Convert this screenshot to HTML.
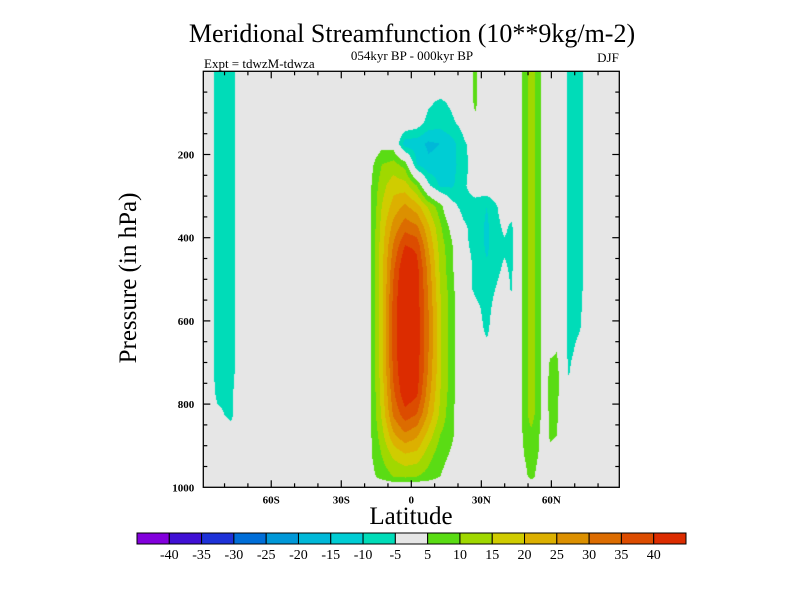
<!DOCTYPE html>
<html><head><meta charset="utf-8">
<style>
body{margin:0;background:#fff;}
#wrap{position:relative;width:800px;height:600px;overflow:hidden;font-family:"Liberation Serif",serif;}
svg text{font-family:"Liberation Serif",serif;}
</style></head>
<body>
<div id="wrap">
<canvas id="field" width="416" height="416" style="position:absolute;left:203px;top:71px;"></canvas>
<svg id="svg" width="800" height="600" style="position:absolute;left:0;top:0;">
<text x="412" y="42" text-anchor="middle" font-size="26">Meridional Streamfunction (10**9kg/m-2)</text>
<text x="412" y="60" text-anchor="middle" font-size="13">054kyr BP - 000kyr BP</text>
<text x="204" y="68" font-size="13">Expt = tdwzM-tdwza</text>
<text x="608" y="62" text-anchor="middle" font-size="13">DJF</text>
<text x="0" y="0" transform="translate(136,278) rotate(-90)" text-anchor="middle" font-size="25">Pressure (in hPa)</text>
<text x="411" y="524" text-anchor="middle" font-size="25">Latitude</text>
<g id="axes"></g>
<g id="cbar"></g>
</svg>
</div>
<script>
const lats = [-89,-88,-83,-77,-72,-20,-17.5,-12.5,-7.5,-2.5,2.5,7.5,12.5,17.5,22.5,27.5,32.5,36,40,43,46,48.5,51.5,54.5,57.5,59.5,62.5,65,67.5,72.5,76,89];
const pressures = [25,75,125,175,225,275,325,375,425,475,525,575,625,675,725,775,825,875,925,975,1000];
const psi = [
[0,0,-7,-7,0,0,0,0,0,0,0,0,0,0,0,6,0,0,0,0,0,8,12,8,0,0,0,0,-7,-7,0,0],
[0,0,-7,-7,0,0,0,0,0,0,0,-4,-6,-4,0,6,0,0,0,0,0,8,12,8,0,0,0,0,-7,-7,0,0],
[0,0,-7,-7,0,0,0,0,0,0,-2,-7,-8,-6,-3,4,0,0,0,0,0,8,12,8,0,0,0,0,-7,-7,0,0],
[0,0,-7,-7,0,0,0,3,2,-13,-13,-16,-15,-12,-6,-2,0,0,0,0,0,8,12,8,0,0,0,0,-7,-7,0,0],
[0,0,-7,-7,0,0,3,10,12,8,-10,-14,-13,-12,-7,-2,0,0,0,0,0,8,12,8,0,0,0,0,-7,-7,0,0],
[0,0,-7,-7,0,0,4,13,18,17,10,-4,-11,-11,-6,-2,0,0,0,0,0,8,12,8,0,0,0,0,-7,-7,0,0],
[0,0,-7,-7,0,0,4,15,22,26,22,14,7,-3,-7,-7,-10,-6,-2,-2,0,8,12,8,0,0,0,0,-7,-7,0,0],
[0,0,-7,-7,0,0,4,17,27,33,31,21,11,3,-4,-7,-11,-7,-4,-6,0,8,12,8,0,0,0,0,-7,-7,0,0],
[0,0,-7,-7,0,0,4,18,31,41,39,25,13,6,-4,-6,-11,-7,-6,-6,0,8,12,8,0,0,0,0,-7,-7,0,0],
[0,0,-7,-7,0,0,4,18,34,46,42,28,14,6,-2,-6,-9,-7,-4,-6,0,8,12,8,0,0,0,0,-7,-7,0,0],
[0,0,-7,-7,0,0,4,18,36,47,43,29,15,7,-2,-6,-8,-5,-2,-5.5,0,8,12,8,0,0,0,0,-7,-7,0,0],
[0,0,-7,-7,0,0,4,18,37,47,43,30,16,7,0,-3,-7,-3,0,0,0,8,12,8,0,0,0,0,-7,-6,0,0],
[0,0,-7,-7,0,0,4,18,37,47,43,30,16,7,0,-2,-6,-2,0,0,0,8,12,8,0,0,0,0,-7,-5,0,0],
[0,0,-7,-7,0,0,4,18,37,47,43,30,16,7,0,0,-3,0,0,0,0,8,12,8,0,4,5,0,-6.5,-3,0,0],
[0,0,-7,-7,0,0,4,18,36,46,43,29,16,7,0,0,0,0,0,0,0,8,12,8,0,7,7,0,-5.5,0,0,0],
[0,0,-6,-6,0,0,4,17,34,44,41,27,15,7,0,0,0,0,0,0,0,8,12,8,0,8,7,0,-2,0,0,0],
[0,0,-4,-6,0,0,4,16,31,38,35,24,14,6,0,0,0,0,0,0,0,8,12,8,0,7,6,0,0,0,0,0],
[0,0,-2,-3,0,0,4,13,24,29,26,18,10,6,0,0,0,0,0,0,0,7,9,6,0,6,5,0,0,0,0,0],
[0,0,0,0,0,0,4,10,16,19,18,12,7,4,0,0,0,0,0,0,0,5,8,5,0,3,3,0,0,0,0,0],
[0,0,0,0,0,0,3,7,10,11,10,8,5,2,0,0,0,0,0,0,0,3,7,3,0,0,0,0,0,0,0,0],
[0,0,0,0,0,0,0,0,0,0,0,0,0,0,0,0,0,0,0,0,0,0,0,0,0,0,0,0,0,0,0,0]
];
const levelLabels = ["-40","-35","-30","-25","-20","-15","-10","-5","5","10","15","20","25","30","35","40"];
const xTickLabels = ["60S","30S","0","30N","60N"];
const xTickValues = [-60,-30,0,30,60];
const yTickValues = [200,400,600,800,1000];
const colors = ["#8200dc","#4010d4","#1e32d8","#006ed8","#0098d8","#00b8d8","#00cdd4","#00dcb8","#e6e6e6","#5adc14","#a0d800","#d0cc00","#dcb000","#dc9000","#dc6c00","#dc4c00","#dc2c00"];

const PL=203.3, PR=619.3, PT=71.3, PB=487.3;
const LAT0=-89.1, LAT1=89.1, P0=0, P1=1000;
function xScale(lat){return PL+(lat-LAT0)/(LAT1-LAT0)*(PR-PL);}
function yScale(p){return PT+(p-P0)/(P1-P0)*(PB-PT);}
function findIdx(arr,v){
  if(v<=arr[0]) return [0,0,0];
  if(v>=arr[arr.length-1]) return [arr.length-1,arr.length-1,0];
  for(let i=0;i<arr.length-1;i++){ if(v>=arr[i]&&v<=arr[i+1]) return [i,i+1,(v-arr[i])/(arr[i+1]-arr[i])]; }
  return [0,0,0];
}
function colorIndex(v){
  if(v>-5&&v<5) return 8;
  if(v>=5) return 9+Math.min(7,Math.floor((v-5)/5));
  return 7-Math.min(7,Math.floor((-v-5)/5));
}
const cv=document.getElementById('field');
const ctx=cv.getContext('2d');
const img=ctx.createImageData(416,416);
const rgb=colors.map(c=>[parseInt(c.substr(1,2),16),parseInt(c.substr(3,2),16),parseInt(c.substr(5,2),16)]);
for(let py=0;py<416;py++){
  const p=P0+(py+0.5)/416*(P1-P0);
  const [r0,r1,ty]=findIdx(pressures,p);
  for(let px=0;px<416;px++){
    const lat=LAT0+(px+0.5)/416*(LAT1-LAT0);
    const [c0,c1,tx]=findIdx(lats,lat);
    const v=(psi[r0][c0]*(1-tx)+psi[r0][c1]*tx)*(1-ty)+(psi[r1][c0]*(1-tx)+psi[r1][c1]*tx)*ty;
    const k=rgb[colorIndex(v)];
    const o=(py*416+px)*4;
    img.data[o]=k[0];img.data[o+1]=k[1];img.data[o+2]=k[2];img.data[o+3]=255;
  }
}
ctx.putImageData(img,0,0);

const NS='http://www.w3.org/2000/svg';
function mk(tag,attrs,parent){const e=document.createElementNS(NS,tag);for(const k in attrs)e.setAttribute(k,attrs[k]);parent.appendChild(e);return e;}
const axes=document.getElementById('axes');
let frame=mk('rect',{x:PL,y:PT,width:PR-PL,height:PB-PT,fill:'none',stroke:'#000','stroke-width':1.3},axes);


for(let lat=-80;lat<=80;lat+=10){
  const x=xScale(lat); const major=(lat%30===0); const L=major?7:4;
  const t1=mk('line',{x1:x,y1:PB,x2:x,y2:PB-L,stroke:'#000','stroke-width':1.2},axes);
  
  
  const t2=mk('line',{x1:x,y1:PT,x2:x,y2:PT+L,stroke:'#000','stroke-width':1.2},axes);
  
  
}
xTickValues.forEach((v,i)=>{
  const t=mk('text',{x:xScale(v),y:PB+16,'text-anchor':'middle','font-size':11,'font-weight':'bold'},axes);
  t.textContent=xTickLabels[i];
  
  
});
for(let p=50;p<1000;p+=50){
  const y=yScale(p); const major=(p%200===0); const L=major?7:4;
  const t1=mk('line',{x1:PL,y1:y,x2:PL+L,y2:y,stroke:'#000','stroke-width':1.2},axes);
  
  
  const t2=mk('line',{x1:PR,y1:y,x2:PR-L,y2:y,stroke:'#000','stroke-width':1.2},axes);
  
  
}
yTickValues.forEach(v=>{
  const t=mk('text',{x:PL-9,y:yScale(v)+4,'text-anchor':'end','font-size':11,'font-weight':'bold'},axes);
  t.textContent=String(v);
  
  
});
const cb=document.getElementById('cbar');
const CB0=137, CB1=686, CBT=533, CBH=11;
const bw=(CB1-CB0)/colors.length;
colors.forEach((c,i)=>{
  const r=mk('rect',{x:CB0+i*bw,y:CBT,width:bw,height:CBH,fill:c,stroke:'#000','stroke-width':1},cb);
  
  
});
levelLabels.forEach((s,i)=>{
  const t=mk('text',{x:CB0+(i+1)*bw,y:CBT+CBH+15,'text-anchor':'middle','font-size':14},cb);
  t.textContent=s;
  
  
});
</script>
</body></html>
